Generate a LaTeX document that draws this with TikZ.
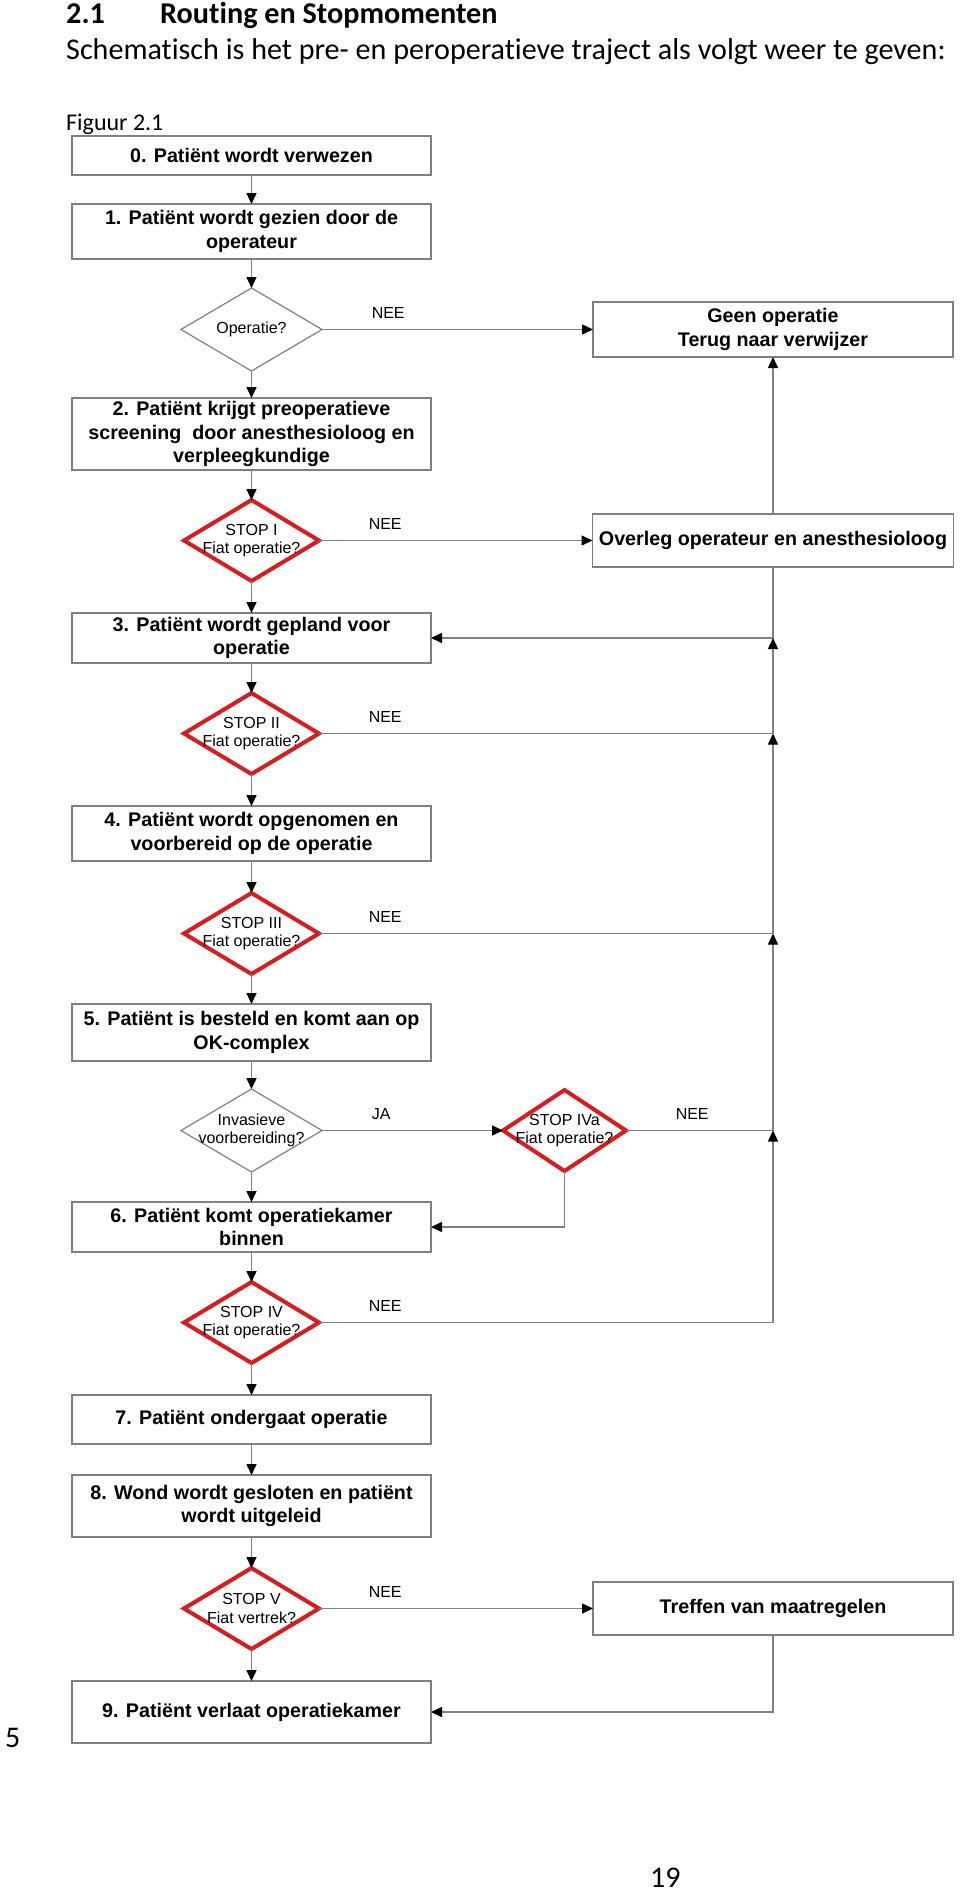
\documentclass[tikz,border=0pt]{standalone}
\usepackage{fontspec}
\setmainfont{Liberation Sans}
\newfontfamily\carlito[Ligatures=NoCommon]{Carlito}
\usetikzlibrary{shapes.geometric, arrows.meta, positioning}
\definecolor{edgegray}{RGB}{128,128,128}
\definecolor{stopred}{RGB}{218,28,30}
\tikzset{
    stepbox/.style={rectangle, draw=edgegray, line width=1.5pt, minimum width=359pt, inner xsep=2pt, inner ysep=2pt, outer sep=0pt, align=center, font=\fontsize{19.7pt}{23.3pt}\selectfont\bfseries},
    question/.style={diamond, draw=edgegray, line width=1.2pt, minimum width=141pt, minimum height=83pt, shape aspect=1.7, inner xsep=-14pt, inner ysep=-8pt, outer sep=0pt, align=center, font=\fontsize{16pt}{18.3pt}\selectfont},
    stopcheck/.style={question, draw=stopred, line width=4pt, minimum width=135pt, minimum height=81pt},
    answer/.style={anchor=south west, inner sep=0pt, xshift=49pt, yshift=10pt, font=\fontsize{16pt}{18.3pt}\selectfont},
    arrow/.style={draw=edgegray, line width=1.5pt, -{Triangle[length=11pt, width=10pt, black]}},
    pagetext/.style={anchor=base west, inner sep=0pt}
}
\begin{document}
\begin{tikzpicture}[x=1pt, y=-1pt]
        \useasboundingbox (0,0) rectangle (960,1893);

        % Page text
        \node[pagetext, font={\carlito\bfseries\fontsize{30.2pt}{36pt}\selectfont}] (secnum) at (66,23) {2.1};
        \node[pagetext, font={\carlito\bfseries\fontsize{30.2pt}{36pt}\selectfont}] (sectitle) at (160,23) {Routing en Stopmomenten};
        \node[pagetext, font={\carlito\fontsize{30.1pt}{36pt}\selectfont}] (intro) at (66,59) {Schematisch is het pre- en peroperatieve traject als volgt weer te geven:};
        \node[pagetext, font={\carlito\fontsize{24pt}{29pt}\selectfont}] (figlabel) at (66,130) {Figuur 2.1};
        \node[pagetext, font={\carlito\fontsize{30pt}{36pt}\selectfont}] (marginnum) at (5,1747) {5};
        \node[pagetext, font={\carlito\fontsize{30pt}{36pt}\selectfont}] (pagenum) at (650,1887) {19};

        % Main column
        \node[stepbox, minimum height=39pt] (b0) at (251.5,155.5) {0. Patiënt wordt verwezen};
        \node[stepbox, minimum height=55pt, below=29pt of b0] (b1) {1. Patiënt wordt gezien door de\\operateur};
        \node[question, below=29pt of b1] (d0) {Operatie?};
        \node[stepbox, minimum height=72pt, below=27pt of d0] (b2) {2. Patiënt krijgt preoperatieve\\screening\ \ door anesthesioloog en\\verpleegkundige};
        \node[stopcheck, below=30pt of b2] (s1) {STOP I\\Fiat operatie?};
        \node[stepbox, minimum height=50pt, below=32pt of s1] (b3) {3. Patiënt wordt gepland voor\\operatie};
        \node[stopcheck, below=30pt of b3] (s2) {STOP II\\Fiat operatie?};
        \node[stepbox, minimum height=55pt, below=32pt of s2] (b4) {4. Patiënt wordt opgenomen en\\voorbereid op de operatie};
        \node[stopcheck, below=32pt of b4] (s3) {STOP III\\Fiat operatie?};
        \node[stepbox, minimum height=57pt, below=30pt of s3] (b5) {5. Patiënt is besteld en komt aan op\\OK-complex};
        \node[question, below=28pt of b5] (inv) {Invasieve\\voorbereiding?};
        \node[stepbox, minimum height=50pt, below=30pt of inv] (b6) {6. Patiënt komt operatiekamer\\binnen};
        \node[stopcheck, below=30pt of b6] (s4) {STOP IV\\Fiat operatie?};
        \node[stepbox, minimum height=49pt, below=32pt of s4] (b7) {7. Patiënt ondergaat operatie};
        \node[stepbox, minimum height=62pt, below=31pt of b7] (b8) {8. Wond wordt gesloten en patiënt\\wordt uitgeleid};
        \node[stopcheck, below=31pt of b8] (s5) {STOP V\\Fiat vertrek?};
        \node[stepbox, minimum height=62pt, below=32pt of s5] (b9) {9. Patiënt verlaat operatiekamer};

        % Side column
        \node[stepbox, minimum width=360pt, minimum height=55pt, right=271pt of d0] (geen) {Geen operatie\\Terug naar verwijzer};
        \node[stepbox, minimum width=361pt, minimum height=53pt] (overleg) at (geen |- s1) {Overleg operateur en anesthesioloog};
        \node[stopcheck, minimum width=123pt, right=181pt of inv] (s4a) {STOP IVa\\Fiat operatie?};
        \node[stepbox, minimum width=360pt, minimum height=53pt] (treffen) at (geen |- s5) {Treffen van maatregelen};

        % Junctions on the return line
        \coordinate (j3) at (geen |- b3);
        \coordinate (j4) at (geen |- s2);
        \coordinate (j5) at (geen |- s3);
        \coordinate (j6) at (geen |- s4a);

        % Arrows
        \draw[arrow] (b0) -- (b1);
        \draw[arrow] (b1) -- (d0);
        \draw[arrow] (d0) -- (b2);
        \draw[arrow] (d0.east) -- node[answer, at start] {NEE} (geen.west);
        \draw[arrow] (b2) -- (s1);
        \draw[arrow] (s1.east) -- node[answer, at start] {NEE} (overleg.west);
        \draw[arrow] (overleg) -- (geen);
        \draw[arrow] (overleg.south) |- (b3.east);
        \draw[arrow] (s1) -- (b3);
        \draw[arrow] (b3) -- (s2);
        \draw[arrow] (s2.east) -| node[answer, at start] {NEE} (j3);
        \draw[arrow] (s2) -- (b4);
        \draw[arrow] (b4) -- (s3);
        \draw[arrow] (s3.east) -| node[answer, at start] {NEE} (j4);
        \draw[arrow] (s3) -- (b5);
        \draw[arrow] (b5) -- (inv);
        \draw[arrow] (inv.east) -- node[answer, at start] {JA} (s4a.west);
        \draw[arrow] (s4a.east) -| node[answer, at start] {NEE} (j5);
        \draw[arrow] (s4a.south) |- (b6.east);
        \draw[arrow] (inv) -- (b6);
        \draw[arrow] (b6) -- (s4);
        \draw[arrow] (s4.east) -| node[answer, at start] {NEE} (j6);
        \draw[arrow] (s4) -- (b7);
        \draw[arrow] (b7) -- (b8);
        \draw[arrow] (b8) -- (s5);
        \draw[arrow] (s5.east) -- node[answer, at start] {NEE} (treffen.west);
        \draw[arrow] (s5) -- (b9);
        \draw[arrow] (treffen.south) |- (b9.east);
    \end{tikzpicture}
\end{document}
